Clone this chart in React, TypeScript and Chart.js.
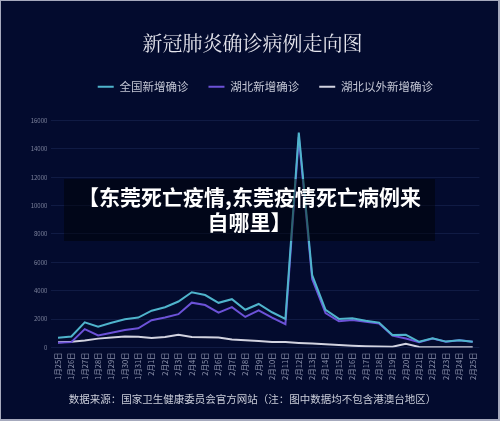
import { useEffect, useRef } from "react";
import { Chart, registerables } from "chart.js";

Chart.register(...registerables);

const categories = [
  "1月25日", "1月26日", "1月27日", "1月28日", "1月29日", "1月30日", "1月31日",
  "2月1日", "2月2日", "2月3日", "2月4日", "2月5日", "2月6日", "2月7日", "2月8日",
  "2月9日", "2月10日", "2月11日", "2月12日", "2月13日", "2月14日", "2月15日",
  "2月16日", "2月17日", "2月18日", "2月19日", "2月20日", "2月21日", "2月22日",
  "2月23日", "2月24日", "2月25日",
];

const nationalNew = [
  688, 769, 1771, 1459, 1737, 1982, 2102, 2590, 2829, 3235, 3887, 3694, 3143, 3399,
  2656, 3062, 2478, 2015, 15152, 5090, 2641, 2009, 2048, 1886, 1749, 880, 889, 397,
  648, 409, 508, 406,
];

const hubeiNew = [
  323, 371, 1291, 840, 1032, 1220, 1347, 1921, 2103, 2345, 3156, 2987, 2447, 2841,
  2147, 2618, 2097, 1638, 14840, 4823, 2420, 1843, 1933, 1807, 1693, 830, 631, 366,
  630, 398, 499, 401,
];

const outsideHubeiNew = [
  365, 398, 480, 619, 705, 762, 755, 669, 726, 890, 731, 707, 696, 558, 509, 444,
  381, 377, 312, 267, 221, 166, 115, 79, 56, 50, 258, 31, 18, 11, 9, 5,
];

const seriesNames = ["全国新增确诊", "湖北新增确诊", "湖北以外新增确诊"];
const seriesColors = ["#4fb4cc", "#6c52d8", "#d2d3e0"];

const titleText = "新冠肺炎确诊病例走向图";
const footnoteText = "数据来源：国家卫生健康委员会官方网站（注：图中数据均不包含港澳台地区）";
const overlayLines = ["【东莞死亡疫情,东莞疫情死亡病例来", "自哪里】"];

const yMin = 0;
const yMax = 16000;
const yStep = 2000;

const CJK = '"Noto Sans CJK SC", "Noto Sans", sans-serif';

export default function App() {
  const canvasRef = useRef<HTMLCanvasElement>(null);

  useEffect(() => {
    document.body.style.margin = "0";
    const canvas = canvasRef.current;
    if (!canvas) return;

    const legendSpacer = {
      id: "legendSpacer",
      beforeInit(chart: any) {
        const legend = chart.legend;
        if (!legend) return;
        const orig = legend.fit;
        legend.fit = function () {
          orig.call(this);
          this.height += 18;
        };
      },
    };

    const data = [nationalNew, hubeiNew, outsideHubeiNew];

    const chart = new Chart(canvas, {
      type: "line",
      data: {
        labels: categories,
        datasets: seriesNames.map((name, i) => ({
          label: name,
          data: data[i],
          borderColor: seriesColors[i],
          backgroundColor: seriesColors[i],
          borderWidth: 2,
          pointRadius: 0,
          tension: 0,
          fill: false,
        })),
      },
      options: {
        responsive: false,
        animation: false,
        layout: { padding: { left: 25.6, right: 20.6, top: 31, bottom: 16 } },
        plugins: {
          title: {
            display: true,
            text: titleText,
            color: "#e4e4ec",
            font: { family: '"Noto Serif CJK SC", ' + CJK, size: 20, weight: "normal", lineHeight: 1.2 },
            padding: { top: 0, bottom: 6 },
          },
          subtitle: {
            display: true,
            position: "bottom",
            text: footnoteText,
            color: "#c9ccd8",
            font: { family: CJK, size: 10.5, weight: "normal", lineHeight: 1.2 },
            padding: { top: 0, bottom: 0 },
          },
          legend: {
            display: true,
            position: "top",
            fullSize: false,
            labels: {
              boxWidth: 16,
              boxHeight: 2,
              padding: 20,
              color: "#c3c6d4",
              font: { family: CJK, size: 11.5 },
              generateLabels(chart: any) {
                const items = Chart.defaults.plugins.legend.labels.generateLabels(chart);
                return items.map((it: any) => ({ ...it, lineWidth: 0 }));
              },
            },
          },
          tooltip: { enabled: false },
        },
        scales: {
          x: {
            offset: true,
            grid: { display: false, drawTicks: false },
            border: { display: false },
            ticks: {
              autoSkip: false,
              maxRotation: 90,
              minRotation: 90,
              padding: 5,
              color: "#8a90aa",
              font: { family: CJK, size: 7.5 },
            },
            afterFit(scale: any) {
              scale.height = 45;
            },
          },
          y: {
            min: yMin,
            max: yMax,
            grid: { color: "rgba(80,100,170,0.18)", drawTicks: false, lineWidth: 1 },
            border: { display: false },
            ticks: {
              stepSize: yStep,
              padding: 4,
              color: "#7c829c",
              font: { family: CJK, size: 6 },
              callback: (v: any) => String(v),
            },
            afterFit(scale: any) {
              scale.width = 25.7;
            },
          },
        },
      },
      plugins: [legendSpacer],
    });

    return () => chart.destroy();
  }, []);

  return (
    <div
      style={{
        position: "absolute",
        left: 0,
        top: 0,
        width: 500,
        height: 421,
        background: "#030b2e",
        overflow: "hidden",
      }}
    >
      <canvas ref={canvasRef} width={500} height={421} style={{ display: "block" }} />
      <div
        style={{
          position: "absolute",
          left: 64,
          top: 179,
          width: 371,
          height: 62,
          background: "rgba(0,0,0,0.45)",
          color: "#ffffff",
          fontFamily: CJK,
          fontWeight: 700,
          fontSize: 21,
          lineHeight: "25px",
          textAlign: "center",
          paddingTop: 5,
          boxSizing: "border-box",
          whiteSpace: "nowrap",
        }}
      >
        {overlayLines.map((l, i) => (
          <div key={i}>{l}</div>
        ))}
      </div>
      <div
        style={{
          position: "absolute",
          left: 0,
          top: 0,
          width: 500,
          height: 421,
          boxSizing: "border-box",
          borderStyle: "solid",
          borderColor: "#a6aabd",
          borderWidth: "1px 2px 2px 1px",
          pointerEvents: "none",
        }}
      />
    </div>
  );
}
